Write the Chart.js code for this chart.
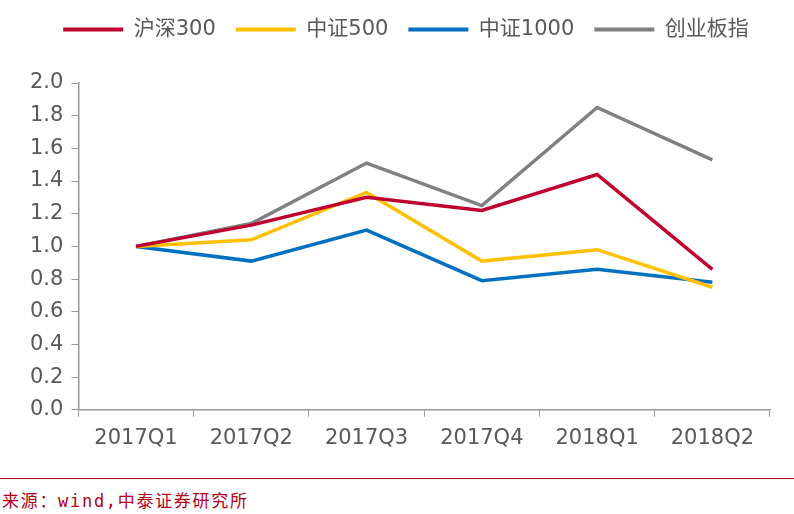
<!DOCTYPE html>
<html><head><meta charset="utf-8">
<script src="https://cdn.jsdelivr.net/npm/chart.js@4.4.0/dist/chart.umd.min.js"></script>
<style>
html,body{margin:0;padding:0;background:#fff;width:794px;height:514px;overflow:hidden}
#wrap{position:absolute;left:0;top:0;width:794px;height:474px}
#line{position:absolute;left:0;top:478px;width:794px;height:1px;background:#A8101C}
#src{position:absolute;left:2px;top:490px;font-family:"DejaVu Sans Mono","Noto Sans CJK SC",monospace;font-size:17px;letter-spacing:1.7px;color:#B00018;line-height:22px}
</style></head><body>
<div id="wrap"><canvas id="c"></canvas></div>
<div id="line"></div>
<div id="src">来源：wind,中泰证券研究所</div>
<script>
const categories = ["2017Q1","2017Q2","2017Q3","2017Q4","2018Q1","2018Q2"];
const seriesNames = ["沪深300","中证500","中证1000","创业板指"];
const hs300 = [1.00,1.13,1.30,1.22,1.44,0.86];
const zz500 = [1.00,1.04,1.33,0.91,0.98,0.75];
const zz1000 = [1.00,0.91,1.10,0.79,0.86,0.78];
const cyb = [1.00,1.14,1.51,1.25,1.85,1.53];
const colors = ["#C0002F","#FFC000","#0070C0","#808080"];
const yTicks = [0,0.2,0.4,0.6,0.8,1.0,1.2,1.4,1.6,1.8,2.0];

const all = [hs300, zz500, zz1000, cyb];
const legendGap = {
  id: 'legendGap',
  beforeInit(chart) {
    const lg = chart.legend;
    const origFit = lg.fit;
    lg.fit = function() { origFit.bind(lg)(); this.height += 35; };
    const origDraw = lg.draw;
    lg.draw = function() {
      const ctx = chart.ctx;
      ctx.save(); ctx.translate(10, 2);
      origDraw.bind(lg)();
      ctx.restore();
    };
  }
};
new Chart(document.getElementById('c'), {
  type: 'line',
  data: {
    labels: categories,
    datasets: all.map((d,i)=>({label: seriesNames[i], data: d, borderColor: colors[i], backgroundColor: colors[i],
      borderWidth: 3.5, pointRadius: 0, tension: 0, fill: false}))
  },
  plugins: [legendGap],
  options: {
    responsive: true, maintainAspectRatio: false, animation: false,
    layout: {padding: {left: 22, right: 24, top: -3, bottom: 14}},
    plugins: {
      tooltip: {enabled: false},
      legend: {
        position: 'top',
        labels: {boxWidth: 60, boxHeight: 4, padding: 20, color: '#595959',
          font: {family: '"DejaVu Sans", "Noto Sans CJK SC", sans-serif', size: 21},
          generateLabels(chart) {
            return Chart.defaults.plugins.legend.labels.generateLabels(chart).map(l => ({...l, lineWidth: 0}));
          }
        }
      }
    },
    scales: {
      x: {
        offset: true,
        grid: {offset: true, drawOnChartArea: false, drawTicks: true, tickLength: 7, color: '#999999'},
        border: {color: '#999999', width: 1.5},
        ticks: {color: '#595959', padding: 9, maxRotation: 0, font: {family: '"DejaVu Sans", sans-serif', size: 21}}
      },
      y: {
        min: 0, max: 2,
        afterBuildTicks: (s)=>{ s.ticks = yTicks.map(v=>({value:v})); },
        grid: {drawOnChartArea: false, drawTicks: true, tickLength: 7, color: '#999999'},
        border: {color: '#999999', width: 1.5},
        ticks: {color: '#595959', padding: 8, callback: v=>v.toFixed(1),
          font: {family: '"DejaVu Sans", sans-serif', size: 21}}
      }
    }
  }
});
</script>
</body></html>
